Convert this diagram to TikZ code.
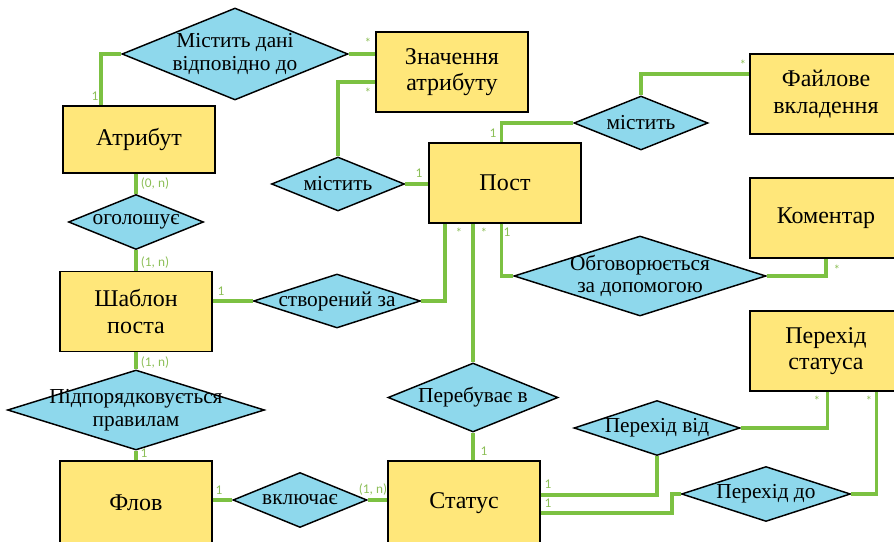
\documentclass[tikz,border=0pt]{standalone}
\usepackage{fontspec}
\setmainfont{Liberation Serif}
\newfontfamily\cardfont{Carlito}
\usepackage{tikz}
\usetikzlibrary{shapes.geometric}
\definecolor{Sand}{HTML}{FFE77A}
\definecolor{Sky}{HTML}{8ED8EC}
\definecolor{Leaf}{HTML}{7CC142}
\definecolor{LeafText}{HTML}{8DBF58}

\begin{document}
\begin{tikzpicture}[x=0.75pt,y=-0.75pt,
    entity/.style={draw=black,line width=1.1pt,fill=Sand,minimum width=114pt,
      minimum height=60pt,align=center,font=\rmfamily\fontsize{18}{20}\selectfont},
    rel/.style={diamond,draw=black,line width=1.1pt,fill=Sky,inner sep=0pt},
    reltext/.style={align=center,font=\rmfamily\fontsize{16}{17}\selectfont},
    link/.style={draw=Leaf,line width=2.6pt},
    card/.style={font=\cardfont\fontsize{10}{10}\selectfont,text=LeafText,inner sep=0pt}
  ]
    \useasboundingbox (0,0) rectangle (894,542);
    \node[entity,minimum height=50.25pt] (attr) at (139,139.5) {Атрибут};
    \node[entity] (value) at (452,72) {Значення\\атрибуту};
    \node[entity] (post) at (505,183) {Пост};
    \node[entity] (file) at (826,94) {Файлове\\вкладення};
    \node[entity] (comment) at (826,218) {Коментар};
    \node[entity] (tmpl) at (136,311.5) {Шаблон\\поста};
    \node[entity] (trans) at (826,351) {Перехід\\статуса};
    \node[entity,minimum height=63pt] (flow) at (136,503) {Флов};
    \node[entity,minimum height=63pt] (status) at (464,503) {Статус};
    \node[rel,minimum width=169.5pt,minimum height=69pt,
      label={[reltext]center:{Містить дані\\відповідно до}}] (holds) at (235,54) {};
    \node[rel,minimum width=99.75pt,minimum height=40.5pt,
      label={[reltext]center:містить}] (hasval) at (338,184) {};
    \node[rel,minimum width=101.25pt,minimum height=41.25pt,
      label={[reltext]center:оголошує}] (declares) at (136,222) {};
    \node[rel,minimum width=100.5pt,minimum height=40.5pt,
      label={[reltext]center:містить}] (hasfile) at (641,123) {};
    \node[rel,minimum width=189pt,minimum height=60pt,
      label={[reltext]center:{Обговорюється\\за допомогою}}] (discussed) at (640,276) {};
    \node[rel,minimum width=125.25pt,minimum height=40.5pt,
      label={[reltext]center:створений за}] (madeby) at (337,301) {};
    \node[rel,minimum width=192.75pt,minimum height=60pt,
      label={[reltext]center:{Підпорядковується\\правилам}}] (obeys) at (136,410) {};
    \node[rel,minimum width=127.5pt,minimum height=51.75pt,
      label={[reltext]center:Перебуває в}] (staysin) at (473,397.5) {};
    \node[rel,minimum width=124.5pt,minimum height=41.25pt,
      label={[reltext]center:Перехід від}] (transfrom) at (657,428) {};
    \node[rel,minimum width=126.75pt,minimum height=41.25pt,
      label={[reltext]center:Перехід до}] (transto) at (766,494) {};
    \node[rel,minimum width=100.5pt,minimum height=41.25pt,
      label={[reltext]center:включає}] (includes) at (300,500) {};
    \draw[link] ([xshift=-28.5pt]attr.north) |- (holds.west);
    \draw[link] (holds.east) -- (value.west |- holds.east);
    \draw[link] ([yshift=-7.5pt]value.west) -| (hasval.north);
    \draw[link] (hasval.east) -- (post.west |- hasval.east);
    \draw[link] (declares.north) -- (declares.north |- attr.south);
    \draw[link] (declares.south) -- (tmpl.north);
    \draw[link] (tmpl.east |- madeby.west) -- (madeby.west);
    \draw[link] (madeby.east) -| ([xshift=-45pt]post.south);
    \draw[link] (staysin.north) -- (staysin.north |- post.south);
    \draw[link] ([xshift=-2.5pt]post.south) |- (discussed.west);
    \draw[link] (discussed.east) -| (comment.south);
    \draw[link] ([xshift=-2.5pt]post.north) |- (hasfile.west);
    \draw[link] (hasfile.north) |- ([yshift=15pt]file.west);
    \draw[link] (tmpl.south) -- (obeys.north);
    \draw[link] (obeys.south) -- (flow.north);
    \draw[link] (flow.east |- includes.west) -- (includes.west);
    \draw[link] (includes.east) -- (status.west |- includes.east);
    \draw[link] (staysin.south) -- (staysin.south |- status.north);
    \draw[link] ([yshift=6pt]status.east) -| (transfrom.south);
    \draw[link] (transfrom.east) -| ([xshift=1pt]trans.south);
    \draw[link] ([yshift=-7.5pt]status.east) -| ([xshift=-6.75pt]transto.west) -- (transto.west);
    \draw[link] (transto.east) -| ([xshift=38pt]trans.south);
    \foreach \x/\y/\t [count=\i] in {95/96/1,368/43/*,368/93/*,419/173/1,
      155/184/{(0, n)},155/263/{(1, n)},221/291/1,155/363/{(1, n)},144/453/1,
      219/490/1,373/490/{(1, n)},459/233/*,484/233/*,507/232/1,493/133/1,
      743/65/*,837/270/*,817/401/*,869/401/*,484/451/1,548/484/1,548/503/1}
      \node[card] (card\i) at (\x,\y) {\t};
  \end{tikzpicture}
\end{document}
